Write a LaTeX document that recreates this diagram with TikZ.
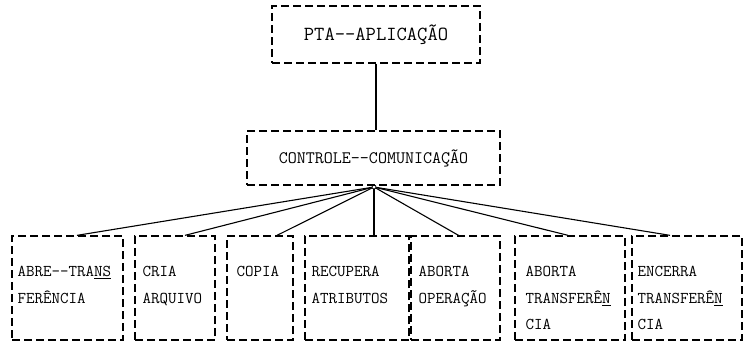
\documentclass[tikz,border=0pt]{standalone}
\usepackage{fontspec}
\usetikzlibrary{calc}
\tikzset{
	caixa/.style={draw, dash pattern=on 8pt off 4pt, line width=1.3pt, inner sep=0pt},
	rotulo/.style={anchor=north west, align=left, inner sep=0pt, font=\ttfamily\fontsize{16.5}{26.5}\selectfont},
	ligacao/.style={line width=1.1pt},
}

\begin{document}
\begin{tikzpicture}[x=1pt,y=-1pt]
	\useasboundingbox (0,0) rectangle (752,341);
	\node[caixa, minimum width=208pt, minimum height=57pt, font=\ttfamily\fontsize{20}{22}\selectfont] at (376,34.5) (app) {PTA-{}-APLICAÇÃO};
	\node[caixa, minimum width=253pt, minimum height=54pt, font=\ttfamily\fontsize{17.5}{20}\selectfont] at (373.5,158) (ctrl) {CONTROLE-{}-COMUNICAÇÃO};
	\node[circle, draw, inner sep=0pt, minimum size=4pt, line width=0.8pt] at (374,187) (hub) {};
	% caixas de baixo
	\node[caixa, minimum width=111pt, minimum height=104pt] at (67.5,288) (b1) {};
	\node[caixa, minimum width=80pt, minimum height=104pt] at (175,288) (b2) {};
	\node[caixa, minimum width=66pt, minimum height=104pt] at (260,288) (b3) {};
	\node[caixa, minimum width=104pt, minimum height=104pt] at (357,288) (b4) {};
	\node[caixa, minimum width=89pt, minimum height=104pt] at (455.5,288) (b5) {};
	\node[caixa, minimum width=110pt, minimum height=104pt] at (570,288) (b6) {};
	\node[caixa, minimum width=110pt, minimum height=104pt] at (687,288) (b7) {};
	\node[rotulo] at ($(b1.north west)+(6,31)$) (t1) {ABRE-{}-TRA\underline{NS}\\FERÊNCIA};
	\node[rotulo] at ($(b2.north west)+(8,31)$) (t2) {CRIA\\ARQUIVO};
	\node[rotulo] at ($(b3.north west)+(10,31)$) (t3) {COPIA};
	\node[rotulo] at ($(b4.north west)+(7,31)$) (t4) {RECUPERA\\ATRIBUTOS};
	\node[rotulo] at ($(b5.north west)+(8,31)$) (t5) {ABORTA\\OPERAÇÃO};
	\node[rotulo] at ($(b6.north west)+(11,31)$) (t6) {ABORTA\\TRANSFERÊ\underline{N}\\CIA};
	\node[rotulo] at ($(b7.north west)+(6,31)$) (t7) {ENCERRA\\TRANSFERÊ\underline{N}\\CIA};
	% ligacoes
	\draw[ligacao] (app.south) -- (app.south |- ctrl.north);
	\draw[ligacao] (hub) -- ($(b1.north)+(9.5,0)$);
	\draw[ligacao] (hub) -- ($(b2.north)+(10,0)$);
	\draw[ligacao] (hub) -- ($(b3.north)+(17,0)$);
	\draw[ligacao] (hub) -- (b4.north -| hub);
	\draw[ligacao] (hub) -- ($(b5.north)+(3,0)$);
	\draw[ligacao] (hub) -- ($(b6.north)+(-2,0)$);
	\draw[ligacao] (hub) -- ($(b7.north)+(-17,0)$);
\end{tikzpicture}
\end{document}
